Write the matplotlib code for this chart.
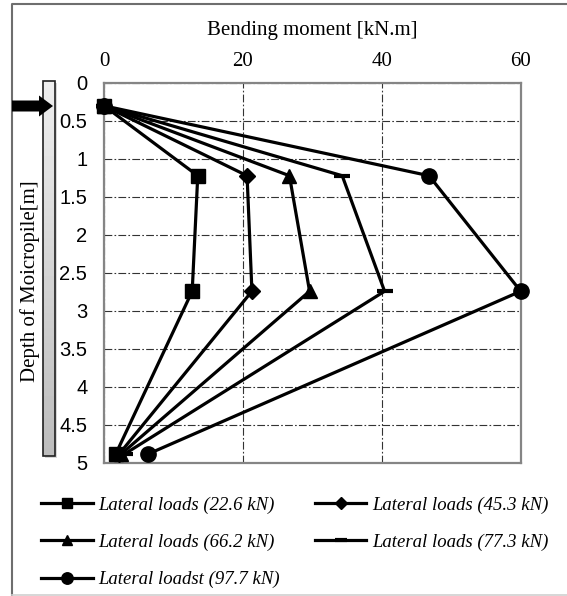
import matplotlib
matplotlib.use('Agg')
import matplotlib.pyplot as plt
import numpy as np
from matplotlib.patches import Rectangle, FancyArrow
from matplotlib.ticker import MultipleLocator, FuncFormatter

# depth of the measuring points along the micropile [m]
depth = [0.3, 1.22, 2.74, 4.88]

# bending moment [kN.m] for each lateral load
m_226 = [0, 13.5, 12.7, 1.7]
m_453 = [0, 20.6, 21.3, 2.2]
m_662 = [0, 26.7, 29.6, 2.5]
m_773 = [0, 34.3, 40.4, 3.0]
m_977 = [0, 46.8, 60.0, 6.4]

labels = ['Lateral loads (22.6 kN)', 'Lateral loads (45.3 kN)',
          'Lateral loads (66.2 kN)', 'Lateral loads (77.3 kN)',
          'Lateral loadst (97.7 kN)']
xticks = [0, 20, 40, 60]

W, H = 567, 596
fig = plt.figure(figsize=(W / 100, H / 100), dpi=100)

# plot area in pixels
left, right, top, bottom = 104, 520.7, 83, 463
ax = fig.add_axes([left / W, 1 - bottom / H, (right - left) / W, (bottom - top) / H])

series = [m_226, m_453, m_662, m_773, m_977]
markers = [('s', 10, 1), ('D', 8, 1), ('^', 10, 1), ('_', 12, 3), ('o', 11, 1)]
handles = []
for vals, (mk, ms, mew), lab in zip(series, markers, labels):
    h, = ax.plot(vals, depth, color='black', lw=2.3, marker=mk, ms=ms,
                 mew=mew, mec='black', mfc='black', label=lab, clip_on=False,
                 zorder=3)
    handles.append(h)

ax.set_xlim(0, 60)
ax.set_ylim(5, 0)
ax.set_xticks(xticks)
ax.yaxis.set_major_locator(MultipleLocator(0.5))
ax.yaxis.set_major_formatter(FuncFormatter(lambda v, p: ('%g' % v)))
ax.xaxis.tick_top()
ax.xaxis.set_label_position('top')
ax.tick_params(axis='both', length=0)
ax.tick_params(axis='x', pad=9)
ax.tick_params(axis='y', pad=12)
for t in ax.get_xticklabels():
    t.set_fontfamily('Liberation Serif')
    t.set_fontsize(15)
for t in ax.get_yticklabels():
    t.set_fontfamily('Liberation Sans')
    t.set_fontsize(14.5)

ax.set_xlabel('Bending moment [kN.m]', family='Liberation Serif', fontsize=15,
              labelpad=12)

ax.grid(True, color='#333333', lw=0.8, linestyle=(0, (7, 2, 1.5, 2)))
ax.set_axisbelow(True)
for s in ax.spines.values():
    s.set_color('#858585')
    s.set_linewidth(1.6)

# y label sits left of the pile drawing
fig.text(30 / W, 1 - 281.5 / H, 'Depth of Moicropile[m]', rotation=90,
         ha='center', va='center', family='Liberation Serif', fontsize=15)

# overlay in pixel coordinates for the frame, pile and load arrow
ov = fig.add_axes([0, 0, 1, 1], zorder=-1)
ov.set_xlim(0, W)
ov.set_ylim(H, 0)
ov.axis('off')
ov.plot([12, 12, W], [H, 4, 4], color='#6e6e6e', lw=1.5)
ov.plot([12, W], [595, 595], color='#d0d0d0', lw=1.2)

grad = np.linspace(0.93, 0.74, 50).reshape(-1, 1)
ov.add_patch(Rectangle((45, 83), 12, 375, color='#b0b0b0', alpha=0.5, lw=0))
ov.imshow(grad, cmap='gray', vmin=0, vmax=1, extent=(43, 55, 456, 81),
          aspect='auto', zorder=2)
ov.add_patch(Rectangle((43, 81), 12, 375, fill=False, ec='#202020', lw=1.2,
                       zorder=3))
ov.set_xlim(0, W)
ov.set_ylim(H, 0)

ov2 = fig.add_axes([0, 0, 1, 1], zorder=5)
ov2.set_xlim(0, W)
ov2.set_ylim(H, 0)
ov2.axis('off')
ov2.add_patch(FancyArrow(12, 106, 41, 0, width=11, head_width=21,
                         head_length=14, length_includes_head=True,
                         color='black', lw=0))

# legend is filled row by row in the original
order = [0, 2, 4, 1, 3]
fig.legend([handles[i] for i in order], [labels[i] for i in order],
           ncol=2, loc='upper left', bbox_to_anchor=(32 / W, 1 - 487 / H),
           frameon=False, borderpad=0, handlelength=2.75, handletextpad=0.3,
           columnspacing=1.85, labelspacing=1.07, markerscale=0.75,
           prop={'family': 'Liberation Serif', 'style': 'italic', 'size': 13.5})

fig.savefig('out.png', dpi=100)
